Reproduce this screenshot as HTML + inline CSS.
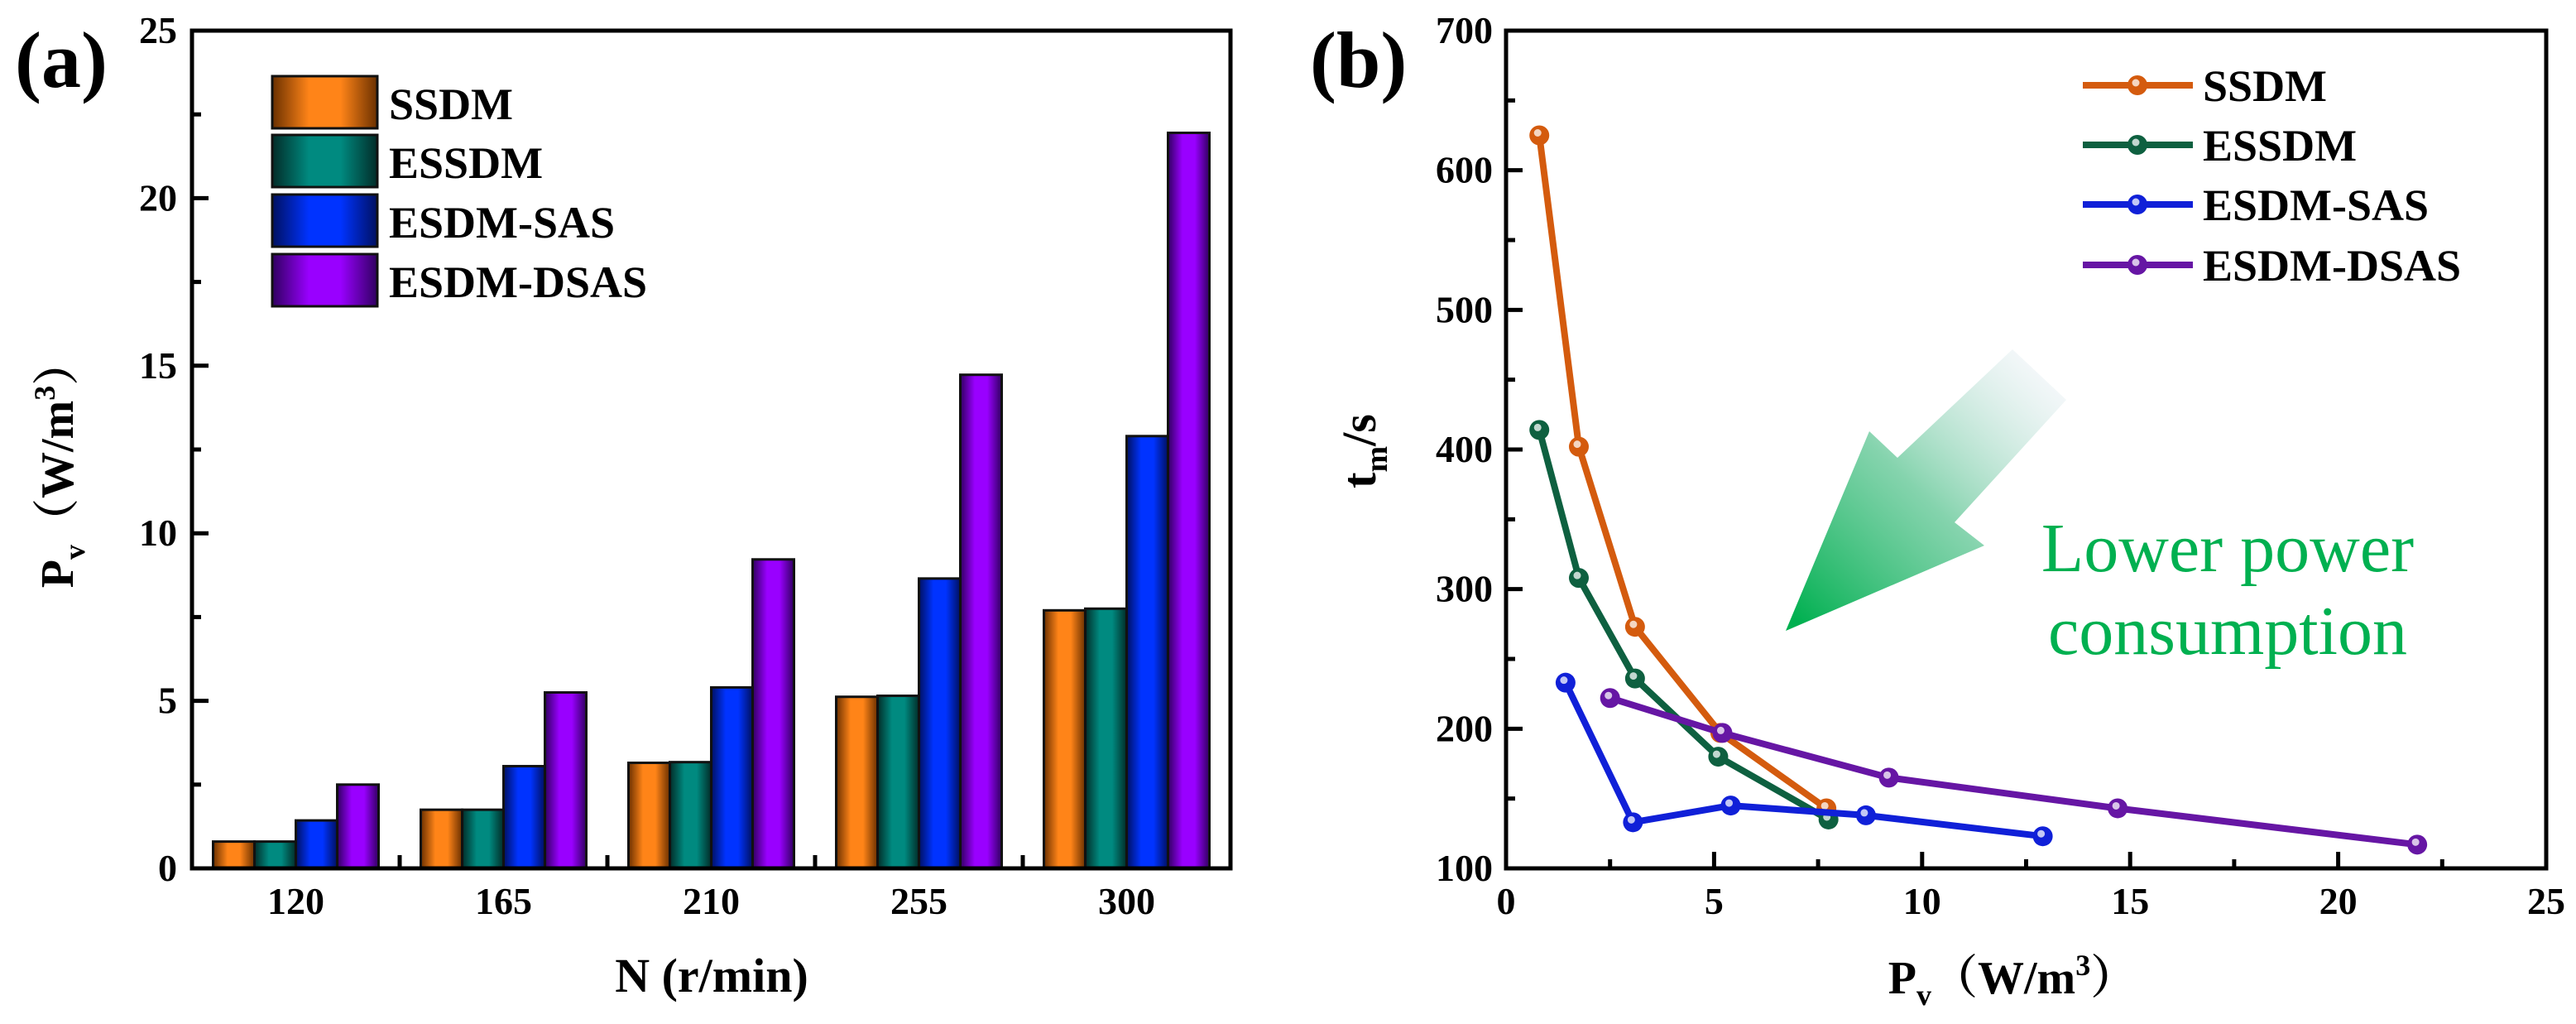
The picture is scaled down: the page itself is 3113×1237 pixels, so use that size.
<!DOCTYPE html>
<html><head><meta charset="utf-8"><style>
html,body{margin:0;padding:0;background:#fff;}
svg{display:block;font-family:"Liberation Serif","Noto Serif CJK SC",serif;}
</style></head><body>
<svg id="fig" width="3113" height="1237" viewBox="0 0 3113 1237" xmlns="http://www.w3.org/2000/svg">
<defs>
<linearGradient id="gOr" x1="0" x2="1"><stop offset="0" stop-color="#6a3000"/><stop offset="0.35" stop-color="#ff8418"/><stop offset="0.65" stop-color="#ff8418"/><stop offset="1" stop-color="#6a3000"/></linearGradient>
<linearGradient id="gTe" x1="0" x2="1"><stop offset="0" stop-color="#022c28"/><stop offset="0.35" stop-color="#008a80"/><stop offset="0.65" stop-color="#008a80"/><stop offset="1" stop-color="#022c28"/></linearGradient>
<linearGradient id="gBl" x1="0" x2="1"><stop offset="0" stop-color="#001060"/><stop offset="0.35" stop-color="#0033ff"/><stop offset="0.65" stop-color="#0033ff"/><stop offset="1" stop-color="#001060"/></linearGradient>
<linearGradient id="gPu" x1="0" x2="1"><stop offset="0" stop-color="#300060"/><stop offset="0.35" stop-color="#9900ff"/><stop offset="0.65" stop-color="#9900ff"/><stop offset="1" stop-color="#300060"/></linearGradient>
<linearGradient id="gArrow" gradientUnits="userSpaceOnUse" x1="2170" y1="750" x2="2470" y2="440"><stop offset="0" stop-color="#00b050"/><stop offset="0.5" stop-color="#5cc592" stop-opacity="0.75"/><stop offset="1" stop-color="#dfe8f0" stop-opacity="0.3"/></linearGradient>
</defs>
<g id="panelA"></g>
<g id="panelB"></g>
</svg>
<script>
// ---- Panel (a) data ----
const categoriesA = ["120","165","210","255","300"];
const ssdmBars = [0.8, 1.75, 3.15, 5.12, 7.7];
const essdmBars = [0.8, 1.75, 3.17, 5.15, 7.75];
const sasBars = [1.43, 3.05, 5.4, 8.65, 12.9];
const dsasBars = [2.5, 5.25, 9.22, 14.73, 21.95];
const yTicksA = [0, 5, 10, 15, 20, 25];
const seriesNamesA = ["SSDM","ESSDM","ESDM-SAS","ESDM-DSAS"];
// ---- Panel (b) data ----
const ssdmX = [0.8, 1.75, 3.1, 5.15, 7.7];
const ssdmY = [625, 402, 273, 197, 143];
const essdmX = [0.8, 1.75, 3.1, 5.1, 7.75];
const essdmY = [414, 308, 236, 180, 135];
const sasX = [1.43, 3.05, 5.4, 8.65, 12.9];
const sasY = [233, 133, 145, 138, 123];
const dsasX = [2.5, 5.2, 9.2, 14.7, 21.9];
const dsasY = [222, 197, 165, 143, 117];
const xTicksB = [0, 5, 10, 15, 20, 25];
const yTicksB = [100, 200, 300, 400, 500, 600, 700];

const NS = "http://www.w3.org/2000/svg";
function mk(parent, tag, attrs, text){
  const e = document.createElementNS(NS, tag);
  for (const k in attrs) e.setAttribute(k, attrs[k]);
  if (text !== undefined) e.textContent = text;
  parent.appendChild(e);
  return e;
}

// ================= Panel A =================
const A = document.getElementById('panelA');
const aL=232, aR=1487, aT=37, aB=1049;
const yA = v => aB - (v/25)*(aB-aT);
const band = (aR-aL)/categoriesA.length;
const xA = i => aL + band*(i+0.5);
const barW = 50;
const fills = ["url(#gOr)","url(#gTe)","url(#gBl)","url(#gPu)"];
const allBars = [ssdmBars, essdmBars, sasBars, dsasBars];

let t;
t = mk(A,'text',{x:18,y:105,'font-size':96,'font-weight':'bold'},'(a)');



allBars.forEach((vals, s) => {
  vals.forEach((v, i) => {
    const x = xA(i) - 2*barW + s*barW;
    const r = mk(A,'rect',{x:x, y:yA(v), width:barW, height:aB-yA(v), fill:fills[s], stroke:'#111', 'stroke-width':3});
    
    
  });
});

// axes box
const boxA = mk(A,'rect',{x:aL,y:aT,width:aR-aL,height:aB-aT,fill:'none',stroke:'#000','stroke-width':5});



// y ticks
for (let v=0; v<=25; v+=2.5){
  const major = Math.abs(v%5)<1e-9;
  mk(A,'line',{x1:aL,x2:aL+(major?20:11),y1:yA(v),y2:yA(v),stroke:'#000','stroke-width':5});
}
yTicksA.forEach(v=>{
  const l = mk(A,'text',{x:aL-18,y:yA(v)+15,'font-size':46,'font-weight':'bold','text-anchor':'end'}, String(v));
  
  
});
// x ticks (between groups) and labels
for (let i=1;i<categoriesA.length;i++){
  mk(A,'line',{x1:aL+band*i,x2:aL+band*i,y1:aB,y2:aB-16,stroke:'#000','stroke-width':5});
}
categoriesA.forEach((c,i)=>{
  const l = mk(A,'text',{x:xA(i),y:1104,'font-size':46,'font-weight':'bold','text-anchor':'middle'}, c);
  
  
});
t = mk(A,'text',{x:860,y:1198,'font-size':58,'font-weight':'bold','text-anchor':'middle'},'N (r/min)');


const yTitleA = mk(A,'text',{transform:'translate(88,560) rotate(-90)','font-size':56,'font-weight':'bold','text-anchor':'middle'});


mk(yTitleA,'tspan',{},'P');
mk(yTitleA,'tspan',{'font-size':36,dy:14},'v');
mk(yTitleA,'tspan',{dy:-14},'（W/m');
mk(yTitleA,'tspan',{'font-size':36,dy:-22},'3');
mk(yTitleA,'tspan',{dy:22},'）');

// legend A
const legA = mk(A,'g',{});


const legTops=[92,163,235,307];
seriesNamesA.forEach((n,s)=>{
  const g = mk(legA,'g',{});
  
  
  mk(g,'rect',{x:329,y:legTops[s],width:127,height:63,fill:fills[s],stroke:'#111','stroke-width':3});
  mk(g,'text',{x:470,y:legTops[s]+52,'font-size':54,'font-weight':'bold'},n);
});

// ================= Panel B =================
const B = document.getElementById('panelB');
const bL=1820, bR=3077, bT=37, bB=1049;
const xB = v => bL + (v/25)*(bR-bL);
const yB = v => bB - ((v-100)/600)*(bB-bT);

t = mk(B,'text',{x:1583,y:105,'font-size':96,'font-weight':'bold'},'(b)');



// arrow
const ar = mk(B,'polygon',{points:[[2158,762],[2259,521],[2293,553],[2432,422],[2497,483],[2362,631],[2398,659]].map(p=>p.join(',')).join(' '),fill:'url(#gArrow)'});


t = mk(B,'text',{x:2692,y:690,'font-size':84,fill:'#00b050','text-anchor':'middle'},'Lower power');


t = mk(B,'text',{x:2692,y:790,'font-size':84,fill:'#00b050','text-anchor':'middle'},'consumption');



const boxB = mk(B,'rect',{x:bL,y:bT,width:bR-bL,height:bB-bT,fill:'none',stroke:'#000','stroke-width':5});


for (let v=0; v<=25; v+=2.5){
  const major = Math.abs(v%5)<1e-9;
  mk(B,'line',{x1:xB(v),x2:xB(v),y1:bB,y2:bB-(major?20:11),stroke:'#000','stroke-width':5});
}
for (let v=100; v<=700; v+=50){
  const major = v%100===0;
  mk(B,'line',{x1:bL,x2:bL+(major?20:11),y1:yB(v),y2:yB(v),stroke:'#000','stroke-width':5});
}
xTicksB.forEach(v=>{
  const l = mk(B,'text',{x:xB(v),y:1104,'font-size':46,'font-weight':'bold','text-anchor':'middle'},String(v));
  
  
});
yTicksB.forEach(v=>{
  const l = mk(B,'text',{x:bL-16,y:yB(v)+15,'font-size':46,'font-weight':'bold','text-anchor':'end'},String(v));
  
  
});
const xTitleB = mk(B,'text',{x:2432,y:1200,'font-size':56,'font-weight':'bold','text-anchor':'middle'});


mk(xTitleB,'tspan',{},'P');
mk(xTitleB,'tspan',{'font-size':36,dy:14},'v');
mk(xTitleB,'tspan',{dy:-14},'（W/m');
mk(xTitleB,'tspan',{'font-size':36,dy:-22},'3');
mk(xTitleB,'tspan',{dy:22},'）');
const yTitleB = mk(B,'text',{transform:'translate(1662,545) rotate(-90)','font-size':58,'font-weight':'bold','text-anchor':'middle'});


mk(yTitleB,'tspan',{},'t');
mk(yTitleB,'tspan',{'font-size':38,dy:14},'m');
mk(yTitleB,'tspan',{dy:-14},'/s');

const seriesB = [
  {name:'SSDM', xs:ssdmX, ys:ssdmY, c:'#d45b0e'},
  {name:'ESSDM', xs:essdmX, ys:essdmY, c:'#0e6040'},
  {name:'ESDM-SAS', xs:sasX, ys:sasY, c:'#1020d8'},
  {name:'ESDM-DSAS', xs:dsasX, ys:dsasY, c:'#6616a4'}
];
seriesB.forEach(s=>{
  const g = mk(B,'g',{});
  
  
  const pts = s.xs.map((x,i)=>xB(x)+','+yB(s.ys[i])).join(' ');
  mk(g,'polyline',{points:pts,fill:'none',stroke:s.c,'stroke-width':8,'stroke-linejoin':'round'});
  s.xs.forEach((x,i)=>{
    const c = mk(g,'circle',{cx:xB(x),cy:yB(s.ys[i]),r:12,fill:s.c});
    
    
    mk(g,'circle',{cx:xB(x)-2,cy:yB(s.ys[i])-3,r:4.5,fill:'#fff','fill-opacity':0.75});
  });
});

// legend B
const legB = mk(B,'g',{});


const legY=[103,175,247,320];
seriesB.forEach((s,i)=>{
  const g = mk(legB,'g',{});
  
  
  mk(g,'line',{x1:2517,x2:2650,y1:legY[i],y2:legY[i],stroke:s.c,'stroke-width':8});
  mk(g,'circle',{cx:2583,cy:legY[i],r:12,fill:s.c});
  mk(g,'circle',{cx:2581,cy:legY[i]-3,r:4.5,fill:'#fff','fill-opacity':0.75});
  mk(g,'text',{x:2662,y:legY[i]+19,'font-size':54,'font-weight':'bold'},s.name);
});
</script>
</body></html>
